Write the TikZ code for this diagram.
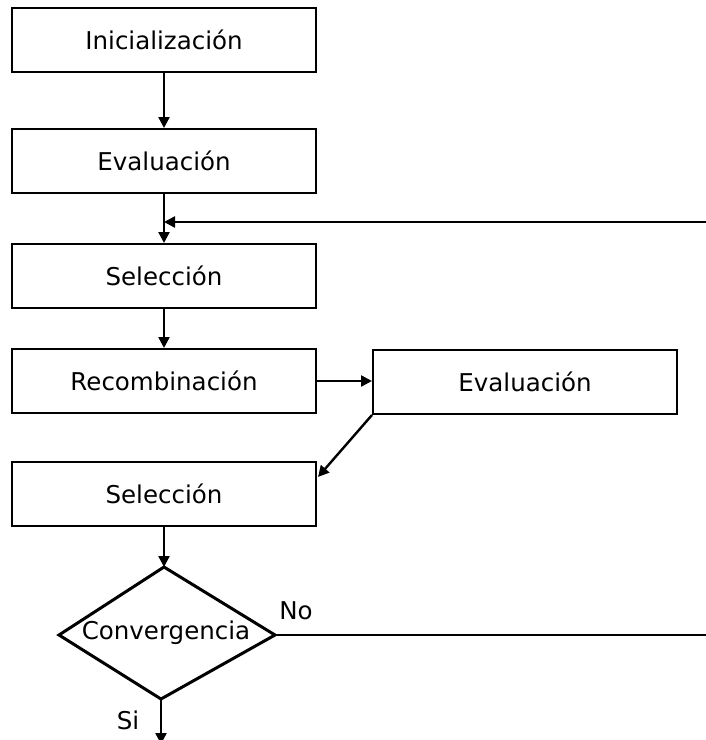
\documentclass[tikz,border=0pt]{standalone}
\usepackage{fontspec}
\setmainfont{DejaVu Sans}
\usetikzlibrary{arrows.meta}
\begin{document}
\begin{tikzpicture}[x=1pt,y=-1pt,
  every node/.style={font=\fontsize{24.5}{29}\selectfont},
  procbox/.style={draw=black, line width=2pt, rectangle, minimum width=304pt, minimum height=64pt, inner sep=0pt},
  decision/.style={draw=black, line width=3pt, line join=miter},
  conn/.style={line width=2.4pt, -{Triangle[length=11pt,width=11pt]}},
  plain/.style={line width=2.4pt},
  lbl/.style={inner sep=0pt}]
\useasboundingbox (0,0) rectangle (706,740);
\node[procbox] (ini) at (164,40) {Inicialización};
\node[procbox] (ev1) at (164,161) {Evaluación};
\node[procbox] (sel1) at (164,276) {Selección};
\node[procbox] (rec) at (164,381) {Recombinación};
\node[procbox] (ev2) at (525,382) {Evaluación};
\node[procbox] (sel2) at (164,494) {Selección};
\coordinate (dTop) at (164,567);
\coordinate (dRight) at (275,635);
\coordinate (dBottom) at (161,699);
\coordinate (dLeft) at (59,635);
\draw[decision] (dTop) -- (dRight) -- (dBottom) -- (dLeft) -- cycle;
\node[lbl] (conv) at (166,633) {Convergencia};
\node[lbl] (no) at (296,611) {No};
\node[lbl] (si) at (128,720) {Si};
\coordinate (fbStart) at (706,222);
\coordinate (fbEnd) at (164,222);
\coordinate (noEnd) at (706,635);
\coordinate (siEnd) at (161,744);
\coordinate (diagEnd) at (318,477);
\draw[conn] (ini.south) -- (ev1.north);
\draw[conn] (ev1.south) -- (sel1.north);
\draw[conn] (fbStart) -- (fbEnd);
\draw[conn] (sel1.south) -- (rec.north);
\draw[conn] (rec.east) -- (rec.east -| ev2.west);
\draw[conn] (ev2.south west) -- (diagEnd);
\draw[conn] (sel2.south) -- (dTop);
\draw[plain] (dRight) -- (noEnd);
\draw[conn] (dBottom) -- (siEnd);
\end{tikzpicture}
\end{document}
